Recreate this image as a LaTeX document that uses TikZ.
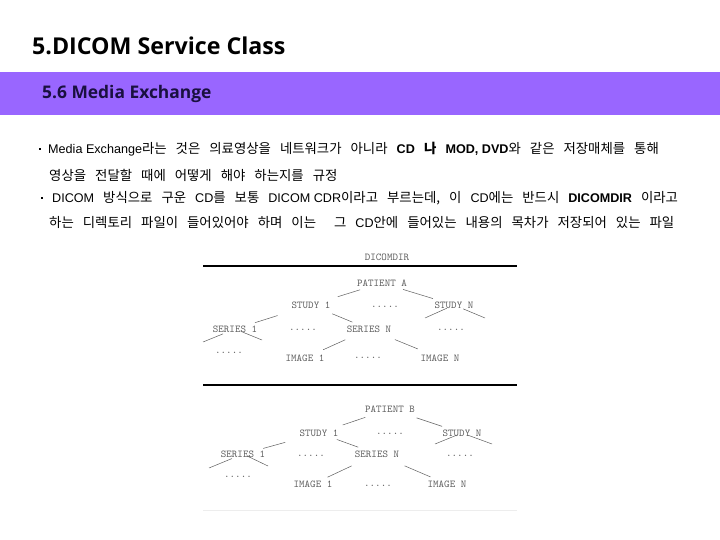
\documentclass[tikz,border=0pt]{standalone}
\usepackage{fontspec}
\setmainfont{Noto Sans CJK KR}[WordSpace=3.0]
\newfontfamily\latfont{Liberation Sans}
\newcommand\la[1]{{\latfont\fontsize{12.6}{14}\selectfont #1}}
\newfontfamily\headfont{Open Sans}
\definecolor{bandpurple}{RGB}{153,102,255}
\definecolor{subnavy}{RGB}{26,16,64}
\definecolor{treegray}{RGB}{95,95,95}
\tikzset{
  bodyline/.style={anchor=base west, inner sep=0pt, font=\fontsize{13.4}{14}\selectfont},
  sqbullet/.style={fill=black, minimum size=2.6pt, inner sep=0pt},
  tnode/.style={font=\ttfamily\fontsize{10.5}{11}\selectfont, text=treegray, inner sep=1pt},
  tline/.style={draw=treegray, line width=0.5pt},
  trule/.style={draw=black, line width=1.2pt},
}
\begin{document}
\begin{tikzpicture}[x=1pt,y=-1pt]
\useasboundingbox (0,0) rectangle (720,540);
\fill[white] (0,0) rectangle (720,540);

% heading
\node[anchor=base west, inner sep=0pt, font=\headfont\bfseries\fontsize{23.2}{28}\selectfont] (title) at (32,55) {5.DICOM Service Class};
\fill[bandpurple] (0,72) rectangle (720,115);
\node[anchor=base west, inner sep=0pt, text=subnavy, font=\headfont\bfseries\fontsize{17.4}{20}\selectfont] (sub) at (42,99) {5.6 Media Exchange};

% text
\node[sqbullet] (b1) at (40,149) {};
\node[bodyline] (l1) at (48,154) {\la{Media Exchange}라는 것은 의료영상을 네트워크가 아니라 \textbf{\la{CD} 나 \la{MOD, DVD}}와 같은 저장매체를 통해};
\node[bodyline] (l2) at (49,181) {영상을 전달할 때에 어떻게 해야 하는지를 규정};
\node[sqbullet] (b2) at (42,198) {};
\node[bodyline] (l3) at (52,203) {\la{DICOM} 방식으로 구운 \la{CD}를 보통 \la{DICOM CDR}이라고 부르는데, 이 \la{CD}에는 반드시 \textbf{\la{DICOMDIR}} 이라고};
\node[bodyline] (l4) at (49,227) {하는 디렉토리 파일이 들어있어야 하며 이는\ \ 그 \la{CD}안에 들어있는 내용의 목차가 저장되어 있는 파일};

% first tree
\node[tnode] (dirA) at (387,257) {DICOMDIR};
\draw[trule] (203,266) -- (517,266);
\node[tnode] (patA) at (382,283) {PATIENT A};
\node[tnode] (stA1) at (311,305) {STUDY 1};
\node[tnode] (stAd) at (385,307) {.....};
\node[tnode] (stAN) at (454,305) {STUDY N};
\node[tnode] (seA1) at (235,329) {SERIES 1};
\node[tnode] (seAd) at (303,330) {.....};
\node[tnode] (seAN) at (369,329) {SERIES N};
\node[tnode] (seAd2) at (451,330) {.....};
\node[tnode] (leA) at (229,353) {.....};
\node[tnode] (imA1) at (305,358) {IMAGE 1};
\node[tnode] (imAd) at (368,358) {.....};
\node[tnode] (imAN) at (440,358) {IMAGE N};
\coordinate (stANl) at (425,318);
\coordinate (stANr) at (485,318);
\coordinate (seA1l) at (203,342);
\coordinate (seA1r) at (262,340);

\path[tline] (patA.center) edge[shorten <=23pt, shorten >=28pt] (stA1.center);
\path[tline] (patA.center) edge[shorten <=22pt, shorten >=22pt] (stAN.center);
\path[tline] (stA1.center) edge[shorten <=35pt, shorten >=21pt] (seA1.center);
\path[tline] (stA1.center) edge[shorten <=23pt, shorten >=18pt] (seAN.center);
\path[tline] (stAN.center) edge[shorten <=8pt] (stANl);
\path[tline] (stAN.center) edge[shorten <=10pt] (stANr);
\path[tline] (seA1.center) edge[shorten <=13pt] (seA1l);
\path[tline] (seA1.center) edge[shorten <=8pt] (seA1r);
\path[tline] (seAN.center) edge[shorten <=26pt, shorten >=20pt] (imA1.center);
\path[tline] (seAN.center) edge[shorten <=28pt, shorten >=24pt] (imAN.center);

% second tree
\draw[trule] (203,385) -- (517,385);
\node[tnode] (patB) at (390,409) {PATIENT B};
\node[tnode] (stB1) at (319,433) {STUDY 1};
\node[tnode] (stBd) at (390,434) {.....};
\node[tnode] (stBN) at (462,433) {STUDY N};
\node[tnode] (seB1) at (243,454) {SERIES 1};
\node[tnode] (seBd) at (311,456) {.....};
\node[tnode] (seBN) at (377,454) {SERIES N};
\node[tnode] (seBd2) at (460,456) {.....};
\node[tnode] (leB) at (238,477) {.....};
\node[tnode] (imB1) at (313,484) {IMAGE 1};
\node[tnode] (imBd) at (378,486) {.....};
\node[tnode] (imBN) at (447,484) {IMAGE N};
\coordinate (stBNl) at (435,444);
\coordinate (stBNr) at (492,444);
\coordinate (seB1l) at (209,468);
\coordinate (seB1r) at (268,466);

\path[tline] (patB.center) edge[shorten <=26pt, shorten >=25pt] (stB1.center);
\path[tline] (patB.center) edge[shorten <=28pt, shorten >=21pt] (stBN.center);
\path[tline] (stB1.center) edge[shorten <=35pt, shorten >=21pt] (seB1.center);
\path[tline] (stB1.center) edge[shorten <=19pt, shorten >=20pt] (seBN.center);
\path[tline] (stBN.center) edge[shorten <=5pt] (stBNl);
\path[tline] (stBN.center) edge[shorten <=6pt] (stBNr);
\path[tline] (seB1.center) edge[shorten <=12pt] (seB1l);
\path[tline] (seB1.center) edge[shorten <=4pt] (seB1r);
\path[tline] (seBN.center) edge[shorten <=28pt, shorten >=16pt] (imB1.center);
\path[tline] (seBN.center) edge[shorten <=30pt, shorten >=18pt] (imBN.center);
\draw[black!7] (203,510) -- (517,510);
\end{tikzpicture}
\end{document}
